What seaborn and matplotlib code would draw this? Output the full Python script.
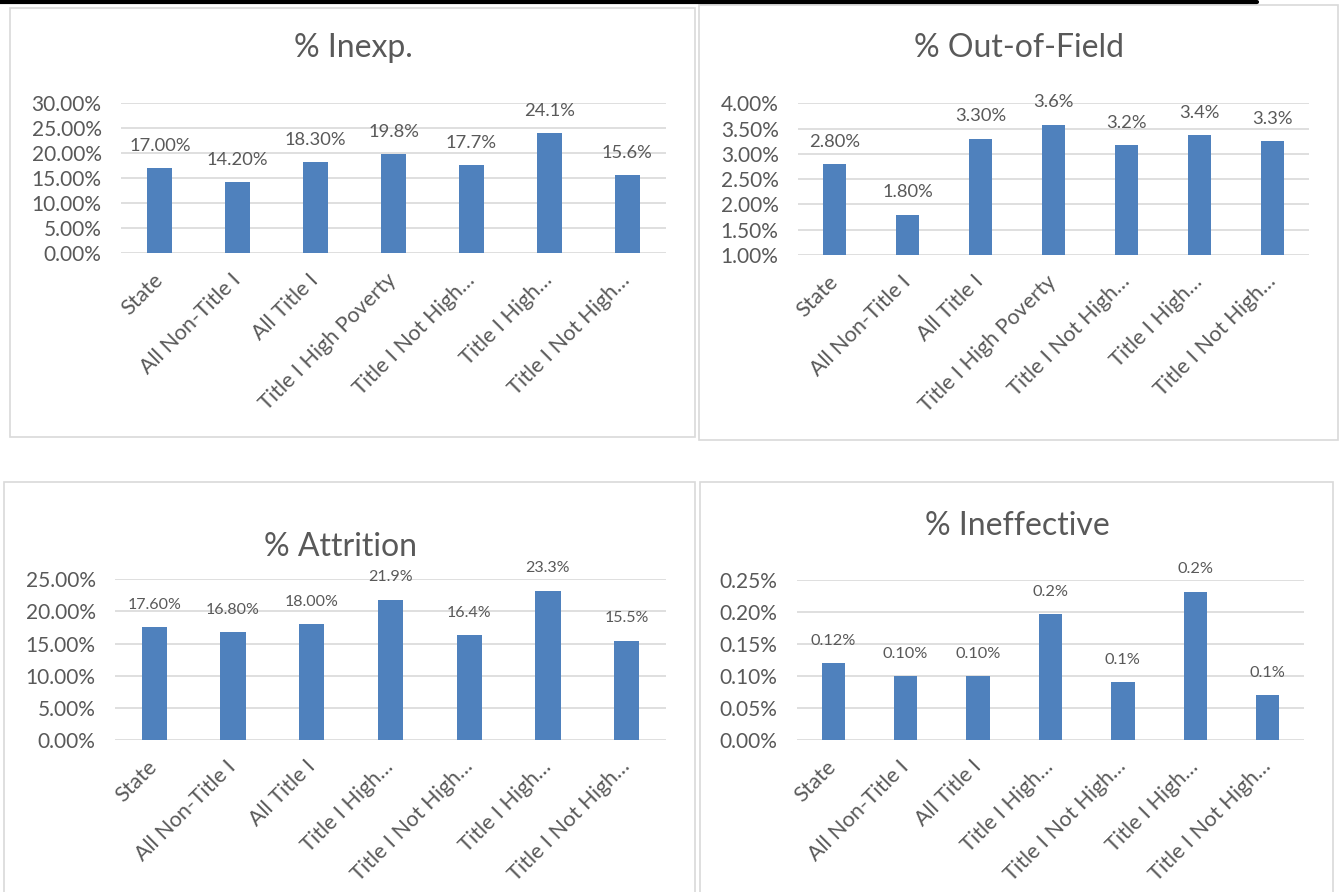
import matplotlib.pyplot as plt
import seaborn as sns
from matplotlib.patches import Rectangle
from matplotlib.lines import Line2D
from matplotlib.ticker import FuncFormatter, MultipleLocator

# data
cats_top = ["State", "All Non-Title I", "All Title I", "Title I High Poverty",
            "Title I Not High…", "Title I High…", "Title I Not High…"]
cats_bottom = ["State", "All Non-Title I", "All Title I", "Title I High…",
               "Title I Not High…", "Title I High…", "Title I Not High…"]

inexp = [17.0, 14.2, 18.3, 19.8, 17.65, 24.05, 15.6]
inexp_lbl = ["17.00%", "14.20%", "18.30%", "19.8%", "17.7%", "24.1%", "15.6%"]

outfield = [2.8, 1.8, 3.3, 3.58, 3.17, 3.37, 3.25]
outfield_lbl = ["2.80%", "1.80%", "3.30%", "3.6%", "3.2%", "3.4%", "3.3%"]

attrition = [17.6, 16.8, 18.0, 21.85, 16.35, 23.25, 15.45]
attrition_lbl = ["17.60%", "16.80%", "18.00%", "21.9%", "16.4%", "23.3%", "15.5%"]

ineffective = [0.12, 0.10, 0.10, 0.197, 0.091, 0.232, 0.07]
ineffective_lbl = ["0.12%", "0.10%", "0.10%", "0.2%", "0.1%", "0.2%", "0.1%"]

BLUE = "#4F81BD"
TXT = "#595959"
GRID = "#D9D9D9"
W, H = 1341, 892

sns.set_theme(style="white")
plt.rcParams["font.family"] = ["Lato", "DejaVu Sans"]

fig = plt.figure(figsize=(W / 100, H / 100), dpi=100)
fig.patch.set_facecolor("white")


def px_axes(x0, x1, y0, y1):
    return fig.add_axes([x0 / W, 1 - y1 / H, (x1 - x0) / W, (y1 - y0) / H])


def panel(ax, cats, vals, lbls, ylim, step, lbl_size, title, title_xy):
    sns.barplot(x=list(range(len(vals))), y=vals, color=BLUE, saturation=1,
                width=0.32, ax=ax, linewidth=0)
    ax.set_ylim(*ylim)
    ax.set_xlim(-0.5, len(vals) - 0.5)
    ax.yaxis.set_major_locator(MultipleLocator(step))
    ax.yaxis.set_major_formatter(FuncFormatter(lambda v, p: f"{v:.2f}%"))
    ax.grid(axis="y", color=GRID, lw=1.2)
    ax.set_axisbelow(True)
    for s in ax.spines.values():
        s.set_visible(False)
    ax.tick_params(axis="both", length=0, colors=TXT, labelsize=15)
    ax.tick_params(axis="y", pad=14)
    ax.set_xticks(range(len(cats)))
    ax.set_xticklabels(cats, rotation=45, ha="right", va="center",
                       rotation_mode="anchor", fontsize=15.5, color=TXT)
    ax.tick_params(axis="x", pad=17)
    ax.set_xlabel("")
    ax.set_ylabel("")
    for i, (v, t) in enumerate(zip(vals, lbls)):
        ax.annotate(t, (i, v), xytext=(0, 16), textcoords="offset points",
                    ha="center", va="center", fontsize=lbl_size, color=TXT)
    fig.text(title_xy[0] / W, 1 - title_xy[1] / H, title, ha="center",
             va="center", fontsize=23, color=TXT)


# chart area borders
for x0, y0, x1, y1 in [(10, 8, 695, 437), (699, 5, 1338, 440),
                       (4, 482, 695, 905), (700, 482, 1333, 905)]:
    fig.add_artist(Rectangle((x0 / W, 1 - y1 / H), (x1 - x0) / W, (y1 - y0) / H,
                             transform=fig.transFigure, fill=False,
                             ec=GRID, lw=1.2))

fig.add_artist(Line2D([0, 1257 / W], [1 - 2 / H, 1 - 2 / H],
                      transform=fig.transFigure, color="black", lw=3))

ax1 = px_axes(121, 666, 103.3, 253.3)
panel(ax1, cats_top, inexp, inexp_lbl, (0, 30), 5, 13.2, "% Inexp.", (353, 48))

ax2 = px_axes(798, 1309, 103.3, 255)
panel(ax2, cats_top, outfield, outfield_lbl, (1, 4), 0.5, 13.2,
      "% Out-of-Field", (1019, 48))

ax3 = px_axes(115, 666, 579.3, 740)
panel(ax3, cats_bottom, attrition, attrition_lbl, (0, 25), 5, 11.5,
      "% Attrition", (341, 547))

ax4 = px_axes(797, 1304, 580, 740)
panel(ax4, cats_bottom, ineffective, ineffective_lbl, (0, 0.25), 0.05, 11.8,
      "% Ineffective", (1017, 526))

fig.savefig("out.png", dpi=100, facecolor="white")
